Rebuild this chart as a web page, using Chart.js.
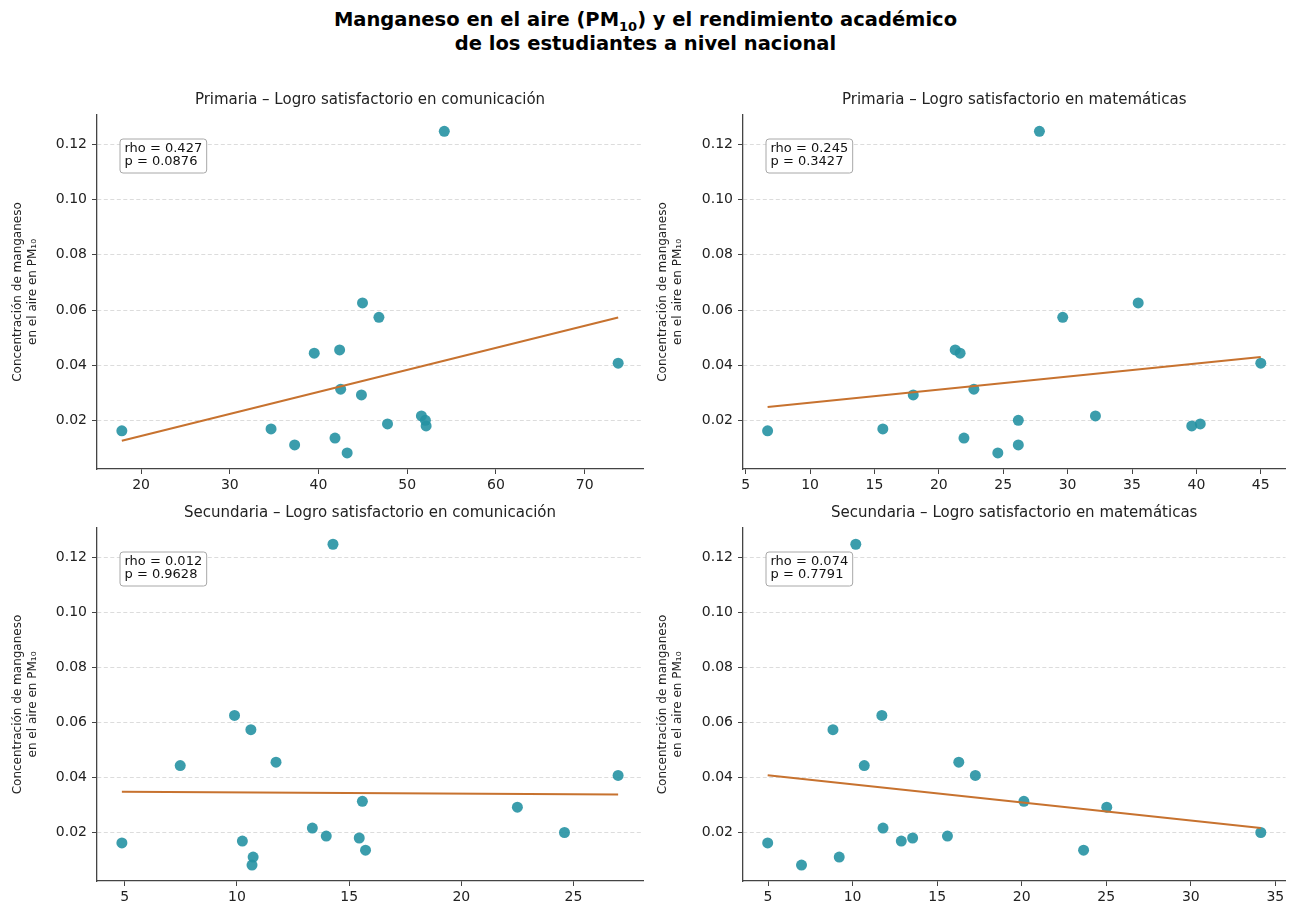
<!DOCTYPE html>
<html>
<head>
<meta charset="utf-8">
<script src="https://cdn.jsdelivr.net/npm/chart.js@4/dist/chart.umd.min.js"></script>
<style>
  html, body { margin: 0; padding: 0; background: #fff; }
  body { width: 1291px; height: 905px; position: relative; overflow: hidden; font-family: "DejaVu Sans", sans-serif; }
  #title { position: absolute; left: 0; top: 8px; width: 1291px; text-align: center; font-weight: bold; font-size: 19.5px; line-height: 24px; color: #000; }
  #title sub { font-size: 13px; line-height: 0; }
  .panel { position: absolute; }
</style>
</head>
<body>
<div id="title">Manganeso en el aire (PM<sub>10</sub>) y el rendimiento académico<br>de los estudiantes a nivel nacional</div>
<div class="panel" style="left:0;top:80px"><canvas id="c1" width="650" height="420"></canvas></div>
<div class="panel" style="left:645px;top:80px"><canvas id="c2" width="646" height="420"></canvas></div>
<div class="panel" style="left:0;top:493px"><canvas id="c3" width="650" height="412"></canvas></div>
<div class="panel" style="left:645px;top:493px"><canvas id="c4" width="646" height="412"></canvas></div>
<script>
// concentración de manganeso (PM10), una por región
const manganeso = [0.0163, 0.0170, 0.0112, 0.0444, 0.0137, 0.0456, 0.0314, 0.0083, 0.0626, 0.0293, 0.0574, 0.0188, 0.0217, 0.0201, 0.0181, 0.1247, 0.0408];

// % logro satisfactorio, mismo orden de regiones
const primComunicacion = [17.83, 34.65, 37.31, 39.52, 41.86, 42.38, 42.50, 43.23, 44.96, 44.84, 46.81, 47.78, 51.60, 52.05, 52.13, 54.18, 73.78];
const primMatematicas = [6.70, 15.65, 26.17, 21.65, 21.95, 21.27, 22.72, 24.58, 35.48, 18.01, 29.62, 40.30, 32.16, 26.17, 39.64, 27.81, 45.00];
const secComunicacion = [4.87, 10.24, 10.72, 7.47, 15.73, 11.74, 15.59, 10.67, 9.89, 22.50, 10.62, 13.98, 13.36, 24.60, 15.45, 14.28, 26.99];
const secMatematicas = [4.98, 12.88, 9.21, 10.69, 23.66, 16.28, 20.13, 6.98, 11.73, 25.03, 8.84, 15.61, 11.80, 34.14, 13.55, 10.19, 17.26];

// recta de tendencia: valor en el x minimo y en el x maximo
const trendPrimCom = [0.0127, 0.0573];
const trendPrimMat = [0.0249, 0.0430];
const trendSecCom = [0.0349, 0.0339];
const trendSecMat = [0.0409, 0.0217];

const rhoValues = ["0.427", "0.245", "0.012", "0.074"];
const pValues = ["0.0876", "0.3427", "0.9628", "0.7791"];

const panelTitles = [
  "Primaria – Logro satisfactorio en comunicación",
  "Primaria – Logro satisfactorio en matemáticas",
  "Secundaria – Logro satisfactorio en comunicación",
  "Secundaria – Logro satisfactorio en matemáticas",
];

const yTicks = [0.02, 0.04, 0.06, 0.08, 0.10, 0.12];
const yLimits = [0.0025, 0.1306];
const xTicksPrimCom = [20, 30, 40, 50, 60, 70];
const xTicksPrimMat = [5, 10, 15, 20, 25, 30, 35, 40, 45];
const xTicksSecCom = [5, 10, 15, 20, 25];
const xTicksSecMat = [5, 10, 15, 20, 25, 30, 35];
const xLimitsPrimCom = [15.03, 76.58];
const xLimitsPrimMat = [4.79, 46.92];
const xLimitsSecCom = [3.76, 28.10];
const xLimitsSecMat = [3.52, 35.60];

const yTitle = ["Concentración de manganeso", "en el aire en PM₁₀"];

Chart.defaults.font.family = "'DejaVu Sans', sans-serif";
Chart.defaults.color = "#222";

// titulo del panel centrado sobre el area del grafico + recuadro rho / p
const panelDecor = {
  id: "panelDecor",
  afterDatasetsDraw(chart, args, opts) {
    const ctx = chart.ctx;
    const area = chart.chartArea;
    ctx.save();
    ctx.font = "15px 'DejaVu Sans'";
    ctx.fillStyle = "#222";
    ctx.textAlign = "center";
    ctx.textBaseline = "middle";
    ctx.fillText(opts.title, (area.left + area.right) / 2, 20);

    ctx.font = "13px 'DejaVu Sans'";
    ctx.textAlign = "left";
    const lines = ["rho = " + opts.rho, "p = " + opts.p];
    const w = Math.max(...lines.map((l) => ctx.measureText(l).width)) + 9;
    const x = area.left + 23;
    const y = area.top + 24;
    const h = 34;
    ctx.beginPath();
    ctx.roundRect(x, y, w, h, 3);
    ctx.fillStyle = "rgba(255,255,255,0.9)";
    ctx.fill();
    ctx.strokeStyle = "#a8a8a8";
    ctx.lineWidth = 1;
    ctx.stroke();
    ctx.fillStyle = "#111";
    ctx.fillText(lines[0], x + 4.5, y + 10);
    ctx.fillText(lines[1], x + 4.5, y + 23);
    ctx.restore();
  },
};

function makePanel(id, xs, trend, xTicks, xLimits, idx, geom) {
  const points = xs.map((x, i) => ({ x: x, y: manganeso[i] }));
  const xMin = Math.min(...xs);
  const xMax = Math.max(...xs);
  const line = [{ x: xMin, y: trend[0] }, { x: xMax, y: trend[1] }];
  new Chart(document.getElementById(id), {
    type: "scatter",
    data: {
      datasets: [
        {
          data: points,
          backgroundColor: "rgba(38,146,163,0.9)",
          borderWidth: 0,
          pointRadius: 5.5,
          order: 2,
        },
        {
          type: "line",
          data: line,
          borderColor: "#c7722f",
          borderWidth: 2,
          pointRadius: 0,
          fill: false,
          order: 1,
        },
      ],
    },
    options: {
      responsive: false,
      devicePixelRatio: 1,
      animation: false,
      layout: { padding: { left: 0, right: geom.padRight, top: 35, bottom: 0 } },
      plugins: {
        legend: { display: false },
        tooltip: { enabled: false },
        title: { display: false },
        panelDecor: { title: panelTitles[idx], rho: rhoValues[idx], p: pValues[idx] },
      },
      scales: {
        x: {
          type: "linear",
          min: xLimits[0],
          max: xLimits[1],
          afterBuildTicks: (scale) => { scale.ticks = xTicks.map((v) => ({ value: v })); },
          afterFit: (scale) => { scale.height = geom.xHeight; },
          ticks: { font: { size: 14 }, color: "#222", padding: 3, maxRotation: 0, callback: (v) => String(v) },
          grid: { display: true, drawOnChartArea: false, tickLength: 5, tickColor: "#444", tickWidth: 1 },
          border: { display: true, color: "#444", width: 1.3 },
        },
        y: {
          type: "linear",
          min: yLimits[0],
          max: yLimits[1],
          afterBuildTicks: (scale) => { scale.ticks = yTicks.map((v) => ({ value: v })); },
          afterFit: (scale) => { scale.width = geom.yWidth; },
          ticks: { font: { size: 14 }, color: "#222", padding: 5, callback: (v) => v.toFixed(2) },
          grid: {
            display: true,
            color: "#dcdcdc",
            tickBorderDash: [],
            tickLength: 5,
            tickColor: "#444",
            tickWidth: 1,
          },
          border: { display: true, color: "#444", width: 1.3, dash: [4, 2.5] },
          title: {
            display: true,
            text: yTitle,
            font: { size: 12, lineHeight: 1.25 },
            color: "#222",
            padding: { top: 10.5, bottom: 0 },
          },
        },
      },
    },
    plugins: [panelDecor],
  });
}

const topGeom = { padRight: 7, xHeight: 31, yWidth: 97 };
const topGeomR = { padRight: 1, xHeight: 31, yWidth: 98 };
const botGeom = { padRight: 7, xHeight: 24, yWidth: 97 };
const botGeomR = { padRight: 1, xHeight: 24, yWidth: 98 };

makePanel("c1", primComunicacion, trendPrimCom, xTicksPrimCom, xLimitsPrimCom, 0, topGeom);
makePanel("c2", primMatematicas, trendPrimMat, xTicksPrimMat, xLimitsPrimMat, 1, topGeomR);
makePanel("c3", secComunicacion, trendSecCom, xTicksSecCom, xLimitsSecCom, 2, botGeom);
makePanel("c4", secMatematicas, trendSecMat, xTicksSecMat, xLimitsSecMat, 3, botGeomR);
</script>
</body>
</html>
